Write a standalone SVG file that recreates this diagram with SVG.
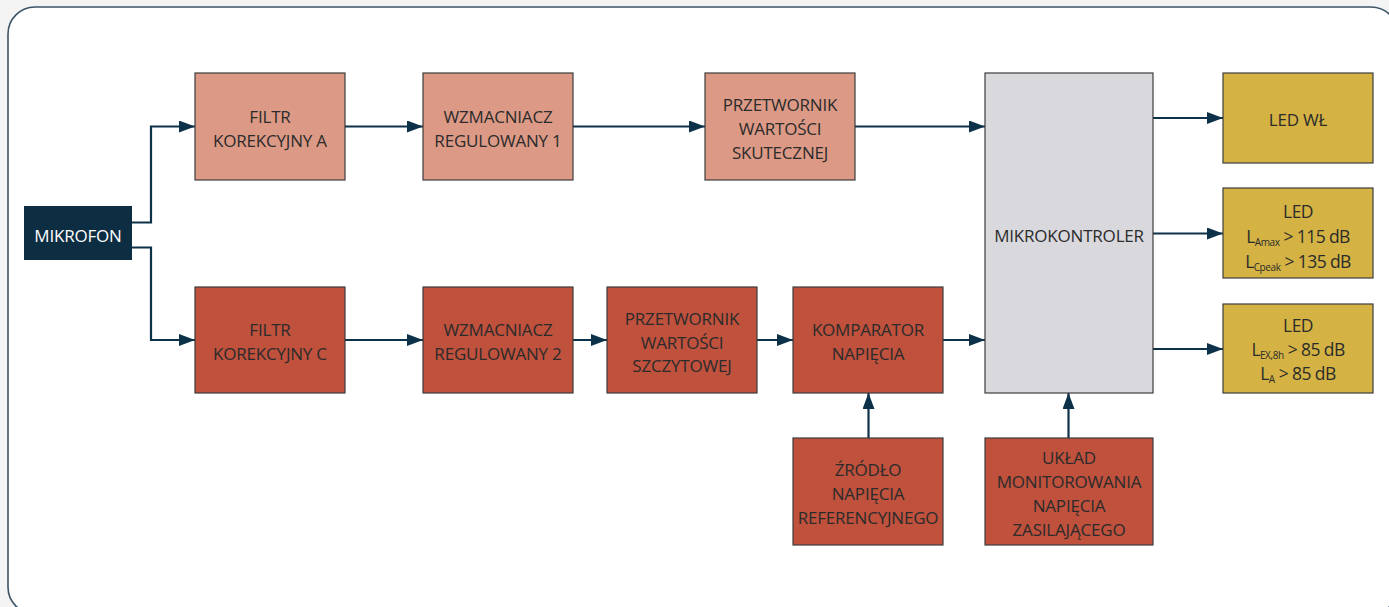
<svg xmlns="http://www.w3.org/2000/svg" width="1389" height="607" viewBox="0 0 1389 607">
<defs>
<style>
.bg{fill:#f4f4f4}
.frame{fill:#ffffff;stroke:#3b5468;stroke-width:1.6}
.box{stroke:#3d3d3d;stroke-width:1.2}
.pa{fill:#dc9a86}
.rc{fill:#bf513d}
.mk{fill:#d9d8dd}
.ld{fill:#d4b344}
.mic{fill:#0d2d42}
text{font-family:"Open Sans","Liberation Sans",sans-serif;font-size:17px;fill:#2b2b2b;text-anchor:middle;letter-spacing:-0.2px}
text.w{fill:#ffffff}
text.led{font-size:17.5px;letter-spacing:-0.6px}
.sub{font-size:10px;letter-spacing:-0.4px}
.conn path{fill:none;stroke:#0c3149;stroke-width:2.2}
</style>
<marker id="ah" markerWidth="16" markerHeight="12" refX="16" refY="6" orient="auto" markerUnits="userSpaceOnUse"><path d="M0,0L16,6L0,12z" fill="#0c3149"/></marker>
</defs>
<rect class="bg" x="0" y="0" width="1389" height="607"/>
<rect class="frame" x="8" y="7" width="1390" height="607" rx="27" ry="27"/>

<g class="conn">
<path d="M132,222.5H151V126.5H195" marker-end="url(#ah)"/>
<path d="M132,247.5H151V340H195" marker-end="url(#ah)"/>
<path d="M345,126.5H423" marker-end="url(#ah)"/>
<path d="M573,126.5H705" marker-end="url(#ah)"/>
<path d="M855,126.5H985" marker-end="url(#ah)"/>
<path d="M345,340H423" marker-end="url(#ah)"/>
<path d="M573,340H607" marker-end="url(#ah)"/>
<path d="M757,340H793" marker-end="url(#ah)"/>
<path d="M943,340H985" marker-end="url(#ah)"/>
<path d="M868.5,438V393" marker-end="url(#ah)"/>
<path d="M1068.5,438V393" marker-end="url(#ah)"/>
<path d="M1153,118H1223" marker-end="url(#ah)"/>
<path d="M1153,233.5H1223" marker-end="url(#ah)"/>
<path d="M1153,349H1223" marker-end="url(#ah)"/>
</g>

<g id="mikrofon">
<rect class="mic" x="24" y="206" width="108" height="54"/>
<text class="w" x="78" y="241.5">MIKROFON</text>
</g>
<g id="filtr-a">
<rect class="box pa" x="195" y="73" width="150" height="107"/>
<text x="270" y="122.5">FILTR</text>
<text x="270" y="146.5">KOREKCYJNY A</text>
</g>
<g id="wzmacniacz-1">
<rect class="box pa" x="423" y="73" width="150" height="107"/>
<text x="498" y="122.5">WZMACNIACZ</text>
<text x="498" y="146.5">REGULOWANY 1</text>
</g>
<g id="przetwornik-skutecznej">
<rect class="box pa" x="705" y="73" width="150" height="107"/>
<text x="780" y="110.5">PRZETWORNIK</text>
<text x="780" y="134.5">WARTOŚCI</text>
<text x="780" y="158.5">SKUTECZNEJ</text>
</g>
<g id="mikrokontroler">
<rect class="box mk" x="985" y="73" width="168" height="320"/>
<text x="1069" y="241.5">MIKROKONTROLER</text>
</g>
<g id="led-wl">
<rect class="box ld" x="1223" y="73" width="150" height="90"/>
<text x="1298" y="125.5">LED WŁ</text>
</g>
<g id="led-2">
<rect class="box ld" x="1223" y="188" width="150" height="90"/>
<text class="led" x="1298" y="217.5">LED</text>
<text class="led" x="1298" y="242.5">L<tspan class="sub" dy="3">Amax</tspan><tspan dy="-3"> &gt; 115 dB</tspan></text>
<text class="led" x="1298" y="267.5">L<tspan class="sub" dy="3">Cpeak</tspan><tspan dy="-3"> &gt; 135 dB</tspan></text>
</g>
<g id="led-3">
<rect class="box ld" x="1223" y="304" width="150" height="89"/>
<text class="led" x="1298" y="332">LED</text>
<text class="led" x="1298" y="356">L<tspan class="sub" dy="3">EX,8h</tspan><tspan dy="-3"> &gt; 85 dB</tspan></text>
<text class="led" x="1298" y="379.5">L<tspan class="sub" dy="3">A</tspan><tspan dy="-3"> &gt; 85 dB</tspan></text>
</g>
<g id="filtr-c">
<rect class="box rc" x="195" y="287" width="150" height="106"/>
<text x="270" y="336">FILTR</text>
<text x="270" y="360">KOREKCYJNY C</text>
</g>
<g id="wzmacniacz-2">
<rect class="box rc" x="423" y="287" width="150" height="106"/>
<text x="498" y="336">WZMACNIACZ</text>
<text x="498" y="360">REGULOWANY 2</text>
</g>
<g id="przetwornik-szczytowej">
<rect class="box rc" x="607" y="287" width="150" height="106"/>
<text x="682" y="324.5">PRZETWORNIK</text>
<text x="682" y="348.5">WARTOŚCI</text>
<text x="682" y="372">SZCZYTOWEJ</text>
</g>
<g id="komparator">
<rect class="box rc" x="793" y="287" width="150" height="106"/>
<text x="868" y="336">KOMPARATOR</text>
<text x="868" y="360">NAPIĘCIA</text>
</g>
<g id="zrodlo">
<rect class="box rc" x="793" y="438" width="150" height="107"/>
<text x="868" y="475.5">ŹRÓDŁO</text>
<text x="868" y="499.5">NAPIĘCIA</text>
<text x="868" y="523.5">REFERENCYJNEGO</text>
</g>
<g id="uklad">
<rect class="box rc" x="985" y="438" width="168" height="107"/>
<text x="1069" y="463.5">UKŁAD</text>
<text x="1069" y="487.5">MONITOROWANIA</text>
<text x="1069" y="511.5">NAPIĘCIA</text>
<text x="1069" y="535.5">ZASILAJĄCEGO</text>
</g>
</svg>
